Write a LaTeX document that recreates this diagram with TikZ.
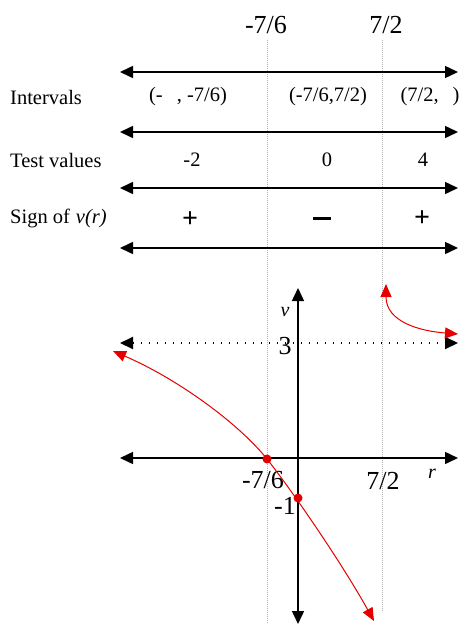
\documentclass[tikz,border=0pt]{standalone}
\usepackage{fontspec}
\setmainfont{Liberation Serif}
\usetikzlibrary{arrows.meta}
\begin{document}
\begin{tikzpicture}[x=1pt,y=-1pt,
  rowtxt/.style={font=\fontsize{20.5}{24}\selectfont,inner sep=0pt},
  bigtxt/.style={font=\fontsize{26}{30}\selectfont,inner sep=0pt},
  signtxt/.style={font=\fontsize{28}{30}\selectfont\bfseries,inner sep=0pt},
  axis/.style={line width=1.5pt,{Triangle[length=13pt,width=12pt]}-{Triangle[length=13pt,width=12pt]}},
  guide/.style={gray!60,line width=0.8pt,dash pattern=on 0.8pt off 1.2pt},
  curve/.style={red!90!black,line width=1pt,{Triangle[length=13pt,width=11pt]}-{Triangle[length=13pt,width=11pt]}},
  dotpt/.style={circle,fill=red!90!black,inner sep=0pt,minimum size=9pt}]
\useasboundingbox (0,0) rectangle (464,624);
% guides
\coordinate (g1t) at (267,40); \coordinate (g1b) at (267,624);
\coordinate (g2t) at (382,40); \coordinate (g2b) at (382,612);
\draw[guide] (g1t) -- (g1b);
\draw[guide] (g2t) -- (g2b);
\node[bigtxt] (t1) at (266,25) {-7/6};
\node[bigtxt] (t2) at (386,25) {7/2};
% table lines
\foreach \y/\n in {72/a,132/b,188/c,248/d}{
  \coordinate (\n l) at (120,\y); \coordinate (\n r) at (458,\y);
  \draw[axis] (\n l) -- (\n r);
}
\node[rowtxt,anchor=west] (lab1) at (10,97) {Intervals};
\node[rowtxt,anchor=west] (lab2) at (10,160) {Test values};
\node[rowtxt,anchor=west] (lab3) at (10,218) {Sign of\hspace{6pt}{\itshape v(r)}};
\node[rowtxt] (i1) at (188,97) {(-\hspace{14pt}, -7/6)};
\node[rowtxt] (i2) at (328,97) {(-7/6,7/2)};
\node[rowtxt] (i3) at (430,97) {(7/2,\hspace{14pt})};
\node[rowtxt] (v1) at (192,160) {-2};
\node[rowtxt] (v2) at (327,160) {0};
\node[rowtxt] (v3) at (423,160) {4};
\node[signtxt] (s1) at (190,220) {+};
\node[signtxt] (s3) at (422,219) {+};
\node[inner sep=0pt] (s2) at (322,218) {\rule{18pt}{3pt}};
% graph axes
\coordinate (vt) at (298,288); \coordinate (vb) at (298,624);
\coordinate (rl) at (120,458); \coordinate (rr) at (458,458);
\coordinate (hl) at (120,343); \coordinate (hr) at (458,343);
\draw[axis] (vb) -- (vt);
\draw[axis] (rl) -- (rr);
\draw[line width=2pt,dash pattern=on 1.6pt off 6.4pt,{Triangle[length=13pt,width=12pt]}-{Triangle[length=13pt,width=12pt]}] (hl) -- (hr);
\node[font=\fontsize{20}{24}\selectfont\itshape,inner sep=0pt] (vlab) at (285,312) {v};
\node[bigtxt] (three) at (285,346) {3};
\node[font=\fontsize{20}{24}\selectfont\itshape,inner sep=0pt] (rlab) at (432,474) {r};
\node[bigtxt] (xm) at (263,480) {-7/6};
\node[bigtxt] (xp) at (383,481) {7/2};
\node[bigtxt] (ym) at (285,506) {-1};
% curves
\coordinate (c1s) at (113,351); \coordinate (c1e) at (374,621);
\coordinate (c2s) at (386,284); \coordinate (c2e) at (458,334);
\node[dotpt] (p1) at (267,459) {};
\node[dotpt] (p2) at (298,498) {};
\draw[curve] (c1s) .. controls (180,380) and (240,425) .. (p1.center)
  .. controls (290,488) and (340,560) .. (c1e);
\draw[curve] (c2s) .. controls (386,322) and (420,331) .. (c2e);
\end{tikzpicture}
\end{document}
